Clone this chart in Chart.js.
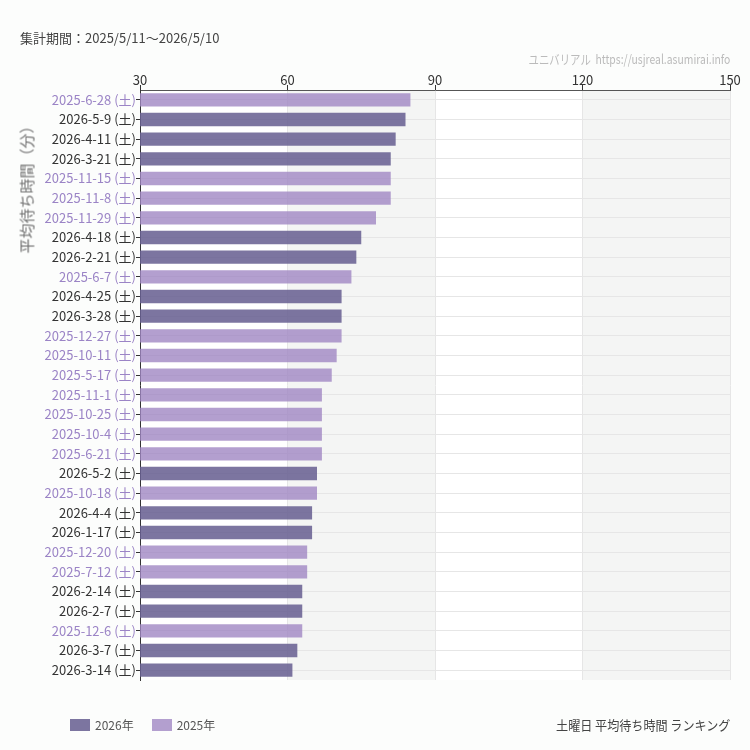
<!DOCTYPE html>
<html lang="ja">
<head>
<meta charset="utf-8">
<script src="https://cdn.jsdelivr.net/npm/chart.js@4.4.1/dist/chart.umd.min.js"></script>
<style>
    html, body { margin: 0; padding: 0; background: #fcfdfc; }
    body { font-family: "Noto Sans CJK JP", "Noto Sans", sans-serif; }
    .wrap { position: relative; width: 750px; height: 750px; }
    .wrap canvas { position: absolute; left: 0; top: 0; }
    .period { position: absolute; left: 20px; top: 28px; font-size: 13px; color: #444; }
    .site { position: absolute; right: 20px; top: 49px; font-size: 13px; color: #bbb;
            transform: scaleX(0.8); transform-origin: right center; white-space: nowrap; }
    .ytitle { position: absolute; left: 26px; top: 186px; font-size: 15px; color: #707070;
              transform: translate(-50%, -50%) rotate(-90deg); white-space: nowrap; }
    .legend { position: absolute; left: 70px; top: 716px; font-size: 12px; color: #555; display: flex; gap: 18px; }
    .legend span { display: inline-flex; align-items: center; }
    .legend i { display: inline-block; width: 20px; height: 12px; margin-right: 5px; }
    .caption { position: absolute; right: 20px; top: 715px; font-size: 13px; color: #444;
               transform: scaleX(0.93); transform-origin: right center; white-space: nowrap; }
</style>
</head>
<body>
<div class="wrap">
    <canvas id="rankChart" width="750" height="750"></canvas>
    <div class="period">集計期間：2025/5/11～2026/5/10</div>
    <div class="site">ユニバリアル&nbsp;&nbsp;https://usjreal.asumirai.info</div>
    <div class="ytitle">平均待ち時間（分）</div>
    <div class="legend" id="legend"></div>
    <div class="caption">土曜日 平均待ち時間 ランキング</div>
</div>
<script>
// Saturdays ranked by average wait (minutes)
const dates = [
    '2025-6-28', '2026-5-9', '2026-4-11', '2026-3-21', '2025-11-15',
    '2025-11-8', '2025-11-29', '2026-4-18', '2026-2-21', '2025-6-7',
    '2026-4-25', '2026-3-28', '2025-12-27', '2025-10-11', '2025-5-17',
    '2025-11-1', '2025-10-25', '2025-10-4', '2025-6-21', '2026-5-2',
    '2025-10-18', '2026-4-4', '2026-1-17', '2025-12-20', '2025-7-12',
    '2026-2-14', '2026-2-7', '2025-12-6', '2026-3-7', '2026-3-14'
];
const waits = [
    85, 84, 82, 81, 81,
    81, 78, 75, 74, 73,
    71, 71, 71, 70, 69,
    67, 67, 67, 67, 66,
    66, 65, 65, 64, 64,
    63, 63, 63, 62, 61
];
const years = ['2026', '2025'];
const xTicks = [30, 60, 90, 120, 150];

const barColors = { '2026': 'rgba(104, 97, 146, 0.87)', '2025': 'rgba(160, 135, 195, 0.8)' };
const labelColors = { '2026': '#333333', '2025': '#9b84c6' };

const yearOf = d => d.slice(0, 4);
const labels = dates.map(d => d + ' (土)');

const datasets = years.map(y => ({
    label: y + '年',
    data: waits.map((v, i) => yearOf(dates[i]) === y ? v : null),
    backgroundColor: barColors[y],
    borderWidth: 0,
    grouped: false,
    categoryPercentage: 1,
    barPercentage: 0.68
}));

// alternating white / gray bands in the plot area
const bands = {
    id: 'bands',
    beforeDraw(chart) {
        const { ctx, chartArea, scales } = chart;
        ctx.save();
        for (let i = 0; i < xTicks.length - 1; i++) {
            const x0 = scales.x.getPixelForValue(xTicks[i]);
            const x1 = scales.x.getPixelForValue(xTicks[i + 1]);
            ctx.fillStyle = i % 2 ? '#f4f5f4' : '#ffffff';
            ctx.fillRect(x0, chartArea.top, x1 - x0, chartArea.bottom - chartArea.top);
        }
        ctx.restore();
    }
};

Chart.defaults.font.family = '"Noto Sans CJK JP", "Noto Sans", sans-serif';

const ctx = document.getElementById('rankChart').getContext('2d');
const chart = new Chart(ctx, {
    type: 'bar',
    data: { labels, datasets },
    plugins: [bands],
    options: {
        indexAxis: 'y',
        responsive: false,
        animation: false,
        layout: { padding: { left: 20, right: 20, top: 62, bottom: 70 } },
        plugins: {
            legend: { display: false },
            tooltip: { enabled: false }
        },
        scales: {
            x: {
                position: 'top',
                min: xTicks[0],
                max: xTicks[xTicks.length - 1],
                afterBuildTicks: s => { s.ticks = xTicks.map(v => ({ value: v })); },
                afterFit: s => { s.height = 28; },
                ticks: { color: '#333', font: { size: 13 }, padding: -3 },
                grid: { color: '#e6e6e6', tickColor: '#333', tickLength: 5 },
                border: { color: '#555' }
            },
            y: {
                afterFit: s => { s.width = 120; },
                ticks: {
                    autoSkip: false,
                    padding: 0,
                    font: { size: 13 },
                    color: c => labelColors[yearOf(dates[c.index])]
                },
                grid: { offset: false, color: '#e6e6e6', tickColor: '#333', tickLength: 4 },
                border: { color: '#333' }
            }
        }
    }
});

// legend built from the datasets
const legendEl = document.getElementById('legend');
chart.data.datasets.forEach(ds => {
    const item = document.createElement('span');
    item.innerHTML = `<i style="background:${ds.backgroundColor}"></i>${ds.label}`;
    legendEl.appendChild(item);
});
</script>
</body>
</html>
